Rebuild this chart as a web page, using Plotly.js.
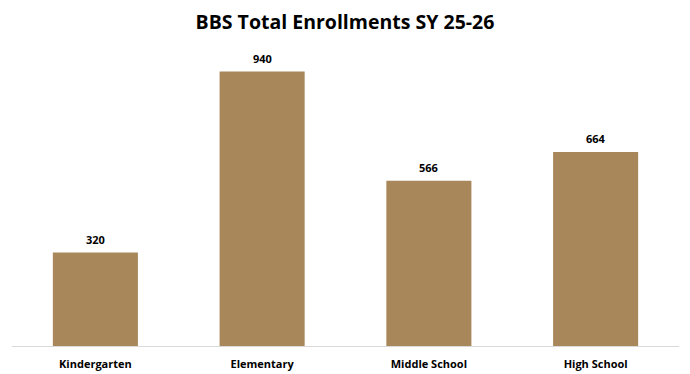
<!DOCTYPE html>
<html>
<head>
<meta charset="utf-8">
<script src="https://cdn.plot.ly/plotly-3.0.1.min.js"></script>
<style>html,body{margin:0;padding:0;background:#fff;}#chart{width:690px;height:374px;}</style>
</head>
<body>
<div id="chart"></div>
<script>
const categories = ["Kindergarten", "Elementary", "Middle School", "High School"];
const enrollments = [320, 940, 566, 664];
const chartTitle = "BBS Total Enrollments SY 25-26";

const labelFont = {family: "Open Sans, sans-serif", size: 11, color: "#000", weight: "bold"};

const trace = {
  type: "bar",
  x: categories,
  y: enrollments,
  marker: {color: "#A8875A"},
  hoverinfo: "x+y"
};

const valueLabels = categories.map((c, i) => ({
  x: c, y: enrollments[i], xref: "x", yref: "y",
  text: String(enrollments[i]),
  showarrow: false, yanchor: "bottom", yshift: 4,
  font: labelFont
}));

const layout = {
  width: 690,
  height: 374,
  margin: {l: 12, r: 11, t: 54, b: 28},
  paper_bgcolor: "#fff",
  plot_bgcolor: "#fff",
  bargap: 0.49,
  showlegend: false,
  annotations: valueLabels,
  title: {
    text: "<b>" + chartTitle + "</b>",
    font: {family: "Open Sans, sans-serif", size: 19.5, color: "#000"},
    x: 0.5, xanchor: "center", y: 0.94, yanchor: "middle"
  },
  xaxis: {
    showline: true, linecolor: "#d9d9d9", linewidth: 1,
    ticks: "", showgrid: false, zeroline: false,
    ticklabelstandoff: 8,
    tickfont: labelFont
  },
  yaxis: {
    range: [0, 1000], visible: false, showgrid: false, zeroline: false
  }
};

Plotly.newPlot("chart", [trace], layout, {displayModeBar: false, staticPlot: true});
</script>
</body>
</html>
